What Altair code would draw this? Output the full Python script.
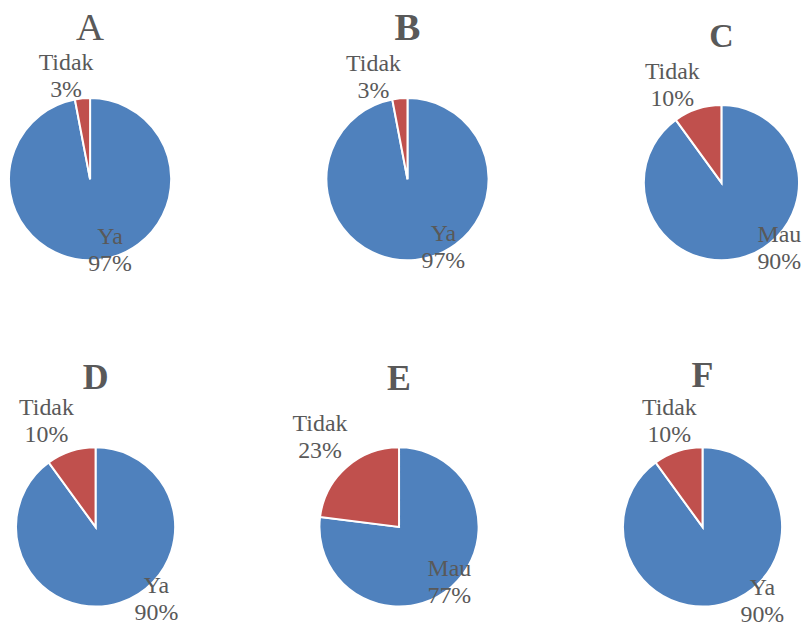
import altair as alt
import pandas as pd

# ---- data ----
panels = ["A", "B", "C", "D", "E", "F"]
major_labels = ["Ya", "Ya", "Mau", "Ya", "Mau", "Ya"]
major_pct = [97, 97, 90, 90, 77, 90]
minor_label = "Tidak"
minor_pct = [3, 3, 10, 10, 23, 10]

rows = []
for p, ml, mp, np_ in zip(panels, major_labels, major_pct, minor_pct):
    rows.append({"panel": p, "cat": ml, "pct": mp, "kind": "major", "ord": 0})
    rows.append({"panel": p, "cat": minor_label, "pct": np_, "kind": "minor", "ord": 1})
df = pd.DataFrame(rows)

# ---- layout / style ----
BLUE = "#4F81BD"
RED = "#C0504D"
GREY = "#595959"
FONT = "Liberation Serif"
LH = 27  # label line height

layout = {
    # w, h, radius, title size, title weight, title offset, minor dx,dy, major dx,dy
    "A": dict(w=161, h=161, r=81.5, ts=39, tw="normal", to=-28, mdx=-14, mdy=4, Mdx=13, Mdy=-3),
    "B": dict(w=161, h=161, r=81.5, ts=39, tw="bold", to=-27, mdx=-24, mdy=5, Mdx=29, Mdy=-6),
    "C": dict(w=154, h=168, r=78, ts=34, tw="bold", to=-21, mdx=-16, mdy=5, Mdx=35, Mdy=-5),
    "D": dict(w=172, h=158, r=80, ts=36, tw="bold", to=-29, mdx=-16, mdy=-3, Mdx=38, Mdy=2),
    "E": dict(w=172, h=158, r=80, ts=36, tw="bold", to=-14, mdx=-8, mdy=-9, Mdx=1, Mdy=0),
    "F": dict(w=172, h=158, r=80, ts=36, tw="bold", to=-27, mdx=0, mdy=-3, Mdx=37, Mdy=4),
}


def panel(p):
    L = layout[p]
    base = (
        alt.Chart(df)
        .transform_filter(alt.datum.panel == p)
        .encode(
            theta=alt.Theta("pct:Q", stack=True),
            order=alt.Order("ord:Q"),
        )
    )
    arc = base.mark_arc(radius=L["r"], stroke="white", strokeWidth=2).encode(
        color=alt.Color(
            "kind:N",
            scale=alt.Scale(domain=["major", "minor"], range=[BLUE, RED]),
            legend=None,
        )
    )
    txt_kw = dict(font=FONT, fontSize=24, color=GREY, lineBreak="\n",
                  lineHeight=LH, align="center", baseline="middle")
    minor_txt = (
        base.transform_calculate(
            lab="datum.kind == 'minor' ? datum.cat + '\\n' + datum.pct + '%' : ''"
        )
        .mark_text(radius=108, dx=L["mdx"], dy=L["mdy"] - LH / 2, **txt_kw)
        .encode(text="lab:N")
    )
    major_txt = (
        base.transform_calculate(
            lab="datum.kind == 'major' ? datum.cat + '\\n' + datum.pct + '%' : ''"
        )
        .mark_text(radius=75, dx=L["Mdx"], dy=L["Mdy"] - LH / 2, **txt_kw)
        .encode(text="lab:N")
    )
    return alt.layer(arc, minor_txt, major_txt).properties(
        width=L["w"],
        height=L["h"],
        title=alt.Title(
            p, font=FONT, fontSize=L["ts"], fontWeight=L["tw"], color=GREY,
            offset=L["to"], baseline="alphabetic", anchor="middle", frame="group",
        ),
    )


row1 = alt.hconcat(panel("A"), panel("B"), panel("C"), spacing=158, bounds="flush")
row2 = alt.hconcat(panel("D"), panel("E"), panel("F"), spacing=133, bounds="flush")

chart = (
    alt.vconcat(row1, row2, spacing=351, bounds="flush")
    .properties(padding={"left": -3, "top": -1, "right": 0, "bottom": -3})
    .configure_view(stroke=None)
)

chart.save("out.html", embed_options={"renderer": "svg", "actions": False})
